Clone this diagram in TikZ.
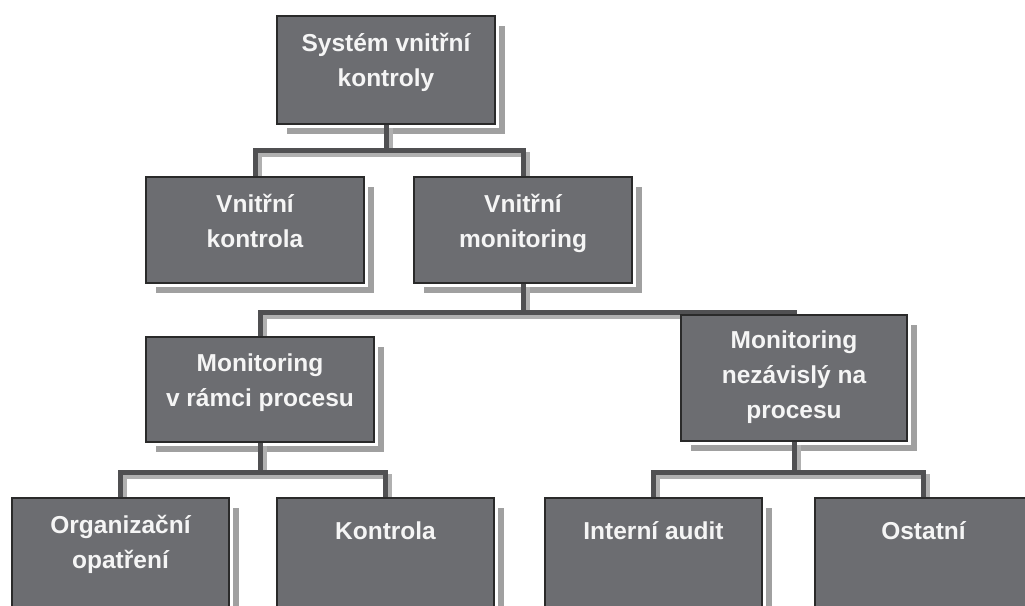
\documentclass[tikz,border=0pt]{standalone}
\usepackage{fontspec}
\setmainfont{Liberation Sans}
\usetikzlibrary{shadows}
\definecolor{boxfill}{HTML}{6C6D71}
\definecolor{boxline}{HTML}{2A2A2A}
\definecolor{conn}{HTML}{505052}
\definecolor{connsh}{HTML}{B0B0B0}
\definecolor{shadowc}{HTML}{A0A0A0}
\tikzset{
  orgbox/.style={rectangle, anchor=north west, inner sep=0pt, outer sep=0pt,
    minimum width=#1, fill=boxfill, draw=boxline, line width=2.5pt,
    general shadow={shadow xshift=10pt, shadow yshift=-10pt, fill=shadowc},
    preaction={draw=white, line width=7.5pt}},
  lbl/.style={anchor=north, inner sep=0pt, align=center, text=white!96!black,
    font=\bfseries\fontsize{24.5}{35}\selectfont, execute at begin node=\strut},
  link/.style={draw=conn, line width=5pt},
  linksh/.style={draw=connsh, line width=5pt}
}
\begin{document}
\begin{tikzpicture}[x=1pt,y=-1pt]
\clip (0,0) rectangle (1025,605);
\fill[white] (0,0) rectangle (1025,605);
\node[orgbox=218pt, minimum height=108pt] (sys) at (277,16) {};
\node[orgbox=218pt, minimum height=106pt] (vk) at (146,177) {};
\node[orgbox=218pt, minimum height=106pt] (vm) at (414,177) {};
\node[orgbox=228pt, minimum height=105pt] (mvr) at (146,337) {};
\node[orgbox=226pt, minimum height=126pt] (mnp) at (681,315) {};
\node[orgbox=217pt, minimum height=125pt] (org) at (12,498) {};
\node[orgbox=217pt, minimum height=125pt] (kon) at (277,498) {};
\node[orgbox=217pt, minimum height=125pt] (ia) at (545,498) {};
\node[orgbox=217pt, minimum height=125pt] (ost) at (815,498) {};
% connector shadows
\begin{scope}[transform canvas={xshift=4pt, yshift=-4pt}]
\draw[linksh] (sys.south) -- ++(0,26) -| (vk.north);
\draw[linksh] (sys.south) -- ++(0,26) -| (vm.north);
\draw[linksh] (vm.south) -- ++(0,29) -| (mvr.north);
\draw[linksh] (vm.south) -- ++(0,29) -| (mnp.north);
\draw[linksh] (mvr.south) -- ++(0,30) -| (org.north);
\draw[linksh] (mvr.south) -- ++(0,30) -| (kon.north);
\draw[linksh] (mnp.south) -- ++(0,31) -| (ia.north);
\draw[linksh] (mnp.south) -- ++(0,31) -| (ost.north);
\end{scope}
% connectors
\draw[link] (sys.south) -- ++(0,26) -| (vk.north);
\draw[link] (sys.south) -- ++(0,26) -| (vm.north);
\draw[link] (vm.south) -- ++(0,29) -| (mvr.north);
\draw[link] (vm.south) -- ++(0,29) -| (mnp.north);
\draw[link] (mvr.south) -- ++(0,30) -| (org.north);
\draw[link] (mvr.south) -- ++(0,30) -| (kon.north);
\draw[link] (mnp.south) -- ++(0,31) -| (ia.north);
\draw[link] (mnp.south) -- ++(0,31) -| (ost.north);
% redraw boxes over connector ends
\foreach \n in {sys, vk, vm, mvr, mnp, org, kon, ia, ost}{
  \fill[boxfill] ([xshift=1.25pt,yshift=-1.25pt]\n.north west) rectangle ([xshift=-1.25pt,yshift=1.25pt]\n.south east);
  \draw[boxline, line width=2.5pt] (\n.north west) rectangle (\n.south east);
}
% labels
\node[lbl] (sys-t) at ([yshift=-17pt]sys.north) {Systém vnitřní\\kontroly};
\node[lbl] (vk-t) at ([yshift=-17pt]vk.north) {Vnitřní\\kontrola};
\node[lbl] (vm-t) at ([yshift=-17pt]vm.north) {Vnitřní\\monitoring};
\node[lbl] (mvr-t) at ([yshift=-17pt]mvr.north) {Monitoring\\v rámci procesu};
\node[lbl] (mnp-t) at ([yshift=-16pt]mnp.north) {Monitoring\\nezávislý na\\procesu};
\node[lbl] (org-t) at ([yshift=-17pt]org.north) {Organizační\\opatření};
\node[lbl] (kon-t) at ([yshift=-17pt]kon.north) {Kontrola};
\node[lbl] (ia-t) at ([yshift=-17pt]ia.north) {Interní audit};
\node[lbl] (ost-t) at ([yshift=-17pt]ost.north) {Ostatní};
\end{tikzpicture}
\end{document}
